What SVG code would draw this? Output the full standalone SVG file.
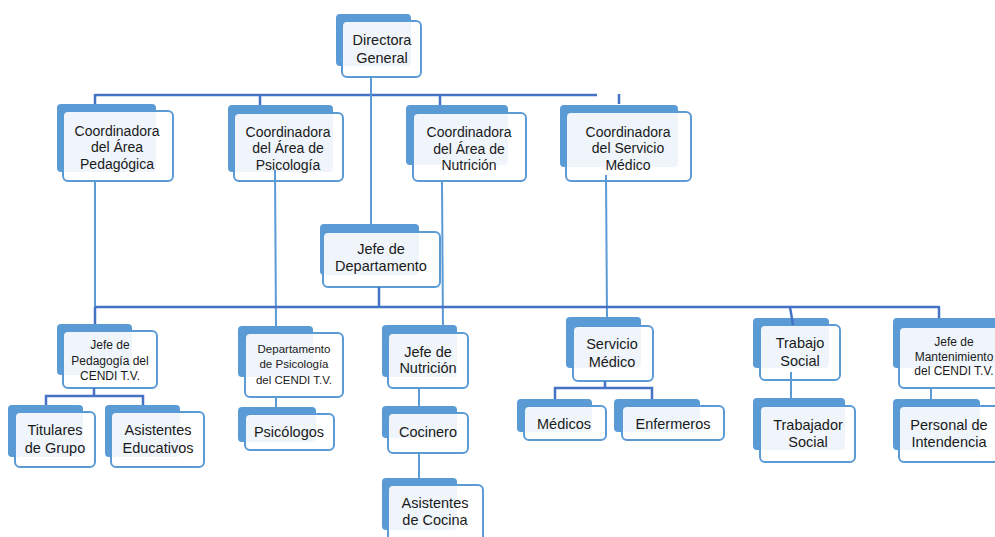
<svg xmlns="http://www.w3.org/2000/svg" width="995" height="537" viewBox="0 0 995 537">
<style>
.bk{fill:#5B9BD5}
.fr{fill:#ffffff;fill-opacity:0.9;stroke:#5B9BD5;stroke-width:2}
text{font-family:"Liberation Sans",Arial,sans-serif;fill:#1a1a1a;text-anchor:middle}
.t14{font-size:14.5px}
.t13{font-size:14px}
.t11{font-size:12px}
.t10{font-size:11.5px}
.h{stroke:#4472C4;stroke-width:2.5;fill:none}
.v{stroke:#5B9BD5;stroke-width:2;fill:none}
</style>
<rect width="995" height="537" fill="#ffffff"/>

<g id="n-directora">
<rect class="bk" x="336" y="14" width="75" height="52" rx="4"/>
<rect class="fr" x="342" y="21" width="79" height="56" rx="5"/>
<text class="t14" x="382" y="45">Directora</text>
<text class="t14" x="382" y="62.5">General</text>
</g>

<g id="n-coord-pedagogica">
<rect class="bk" x="57" y="104" width="99" height="68" rx="4"/>
<rect class="fr" x="63" y="111" width="110" height="70" rx="5"/>
<text class="t13" x="117" y="135.5">Coordinadora</text>
<text class="t13" x="117" y="152">del Área</text>
<text class="t13" x="117" y="168.5">Pedagógica</text>
</g>

<g id="n-coord-psicologia">
<rect class="bk" x="228" y="105" width="105" height="67" rx="4"/>
<rect class="fr" x="234" y="113" width="109" height="68" rx="5"/>
<text class="t13" x="288" y="136.5">Coordinadora</text>
<text class="t13" x="288" y="153">del Área de</text>
<text class="t13" x="288" y="170">Psicología</text>
</g>

<g id="n-coord-nutricion">
<rect class="bk" x="406" y="105" width="102" height="60" rx="4"/>
<rect class="fr" x="413" y="113" width="113" height="68" rx="5"/>
<text class="t13" x="469" y="136.5">Coordinadora</text>
<text class="t13" x="469" y="154">del Área de</text>
<text class="t13" x="469" y="170">Nutrición</text>
</g>

<g id="n-coord-servicio">
<rect class="bk" x="560" y="105" width="118" height="62" rx="4"/>
<rect class="fr" x="566" y="112" width="125" height="69" rx="5"/>
<text class="t13" x="628" y="136.5">Coordinadora</text>
<text class="t13" x="628" y="153">del Servicio</text>
<text class="t13" x="628" y="170">Médico</text>
</g>

<g id="n-jefe-depto">
<rect class="bk" x="320" y="224" width="99" height="51" rx="4"/>
<rect class="fr" x="323" y="232" width="117" height="55" rx="5"/>
<text class="t14" x="381" y="254">Jefe de</text>
<text class="t14" x="381" y="271">Departamento</text>
</g>

<g id="n-jefe-pedagogia">
<rect class="bk" x="57" y="324" width="75" height="51" rx="4"/>
<rect class="fr" x="63" y="331" width="94" height="57" rx="5"/>
<text class="t11" x="110" y="349">Jefe de</text>
<text class="t11" x="110" y="365">Pedagogía del</text>
<text class="t11" x="110" y="380">CENDI T.V.</text>
</g>

<g id="n-titulares">
<rect class="bk" x="8" y="405" width="75" height="52" rx="4"/>
<rect class="fr" x="15" y="412" width="80" height="55" rx="5"/>
<text class="t14" x="55" y="435">Titulares</text>
<text class="t14" x="55" y="453">de Grupo</text>
</g>

<g id="n-asistentes-educativos">
<rect class="bk" x="105" y="405" width="75" height="52" rx="4"/>
<rect class="fr" x="111" y="412" width="93" height="55" rx="5"/>
<text class="t14" x="158" y="435">Asistentes</text>
<text class="t14" x="158" y="453">Educativos</text>
</g>

<g id="n-depto-psicologia">
<rect class="bk" x="238" y="326" width="75" height="51" rx="4"/>
<rect class="fr" x="245" y="333" width="98" height="64" rx="5"/>
<text class="t10" x="294" y="352.5">Departamento</text>
<text class="t10" x="294" y="368">de Psicología</text>
<text class="t10" x="294" y="384">del CENDI T.V.</text>
</g>

<g id="n-psicologos">
<rect class="bk" x="238" y="407" width="78" height="35" rx="4"/>
<rect class="fr" x="245" y="414" width="89" height="36" rx="5"/>
<text class="t14" x="289" y="437">Psicólogos</text>
</g>

<g id="n-jefe-nutricion">
<rect class="bk" x="382" y="325" width="75" height="52" rx="4"/>
<rect class="fr" x="388" y="333" width="80" height="55" rx="5"/>
<text class="t14" x="428" y="356.5">Jefe de</text>
<text class="t14" x="428" y="373">Nutrición</text>
</g>

<g id="n-cocinero">
<rect class="bk" x="382" y="406" width="75" height="32" rx="4"/>
<rect class="fr" x="388" y="413" width="80" height="40" rx="5"/>
<text class="t14" x="428" y="437">Cocinero</text>
</g>

<g id="n-asistentes-cocina">
<rect class="bk" x="382" y="478" width="75" height="52" rx="4"/>
<rect class="fr" x="388" y="485" width="95" height="60" rx="5"/>
<text class="t14" x="435" y="508">Asistentes</text>
<text class="t14" x="435" y="525">de Cocina</text>
</g>

<g id="n-servicio-medico">
<rect class="bk" x="566" y="317" width="75" height="51" rx="4"/>
<rect class="fr" x="573" y="326" width="80" height="55" rx="5"/>
<text class="t14" x="612" y="348.5">Servicio</text>
<text class="t14" x="612" y="366.5">Médico</text>
</g>

<g id="n-medicos">
<rect class="bk" x="517" y="399" width="75" height="33" rx="4"/>
<rect class="fr" x="524" y="406" width="82" height="34" rx="5"/>
<text class="t14" x="564" y="429">Médicos</text>
</g>

<g id="n-enfermeros">
<rect class="bk" x="614" y="399" width="86" height="33" rx="4"/>
<rect class="fr" x="622" y="406" width="102" height="34" rx="5"/>
<text class="t14" x="673" y="429">Enfermeros</text>
</g>

<g id="n-trabajo-social">
<rect class="bk" x="753" y="318" width="76" height="50" rx="4"/>
<rect class="fr" x="760" y="325" width="80" height="55" rx="5"/>
<text class="t14" x="800" y="348">Trabajo</text>
<text class="t14" x="800" y="366">Social</text>
</g>

<g id="n-trabajador-social">
<rect class="bk" x="753" y="398" width="92" height="52" rx="4"/>
<rect class="fr" x="760" y="406" width="95" height="56" rx="5"/>
<text class="t14" x="808" y="430">Trabajador</text>
<text class="t14" x="808" y="447">Social</text>
</g>

<g id="n-jefe-mantenimiento">
<rect class="bk" x="893" y="318" width="110" height="50" rx="4"/>
<rect class="fr" x="899" y="327" width="110" height="61" rx="5"/>
<text class="t11" x="954" y="346">Jefe de</text>
<text class="t11" x="954" y="360.5">Mantenimiento</text>
<text class="t11" x="954" y="375">del CENDI T.V.</text>
</g>

<g id="n-personal-intendencia">
<rect class="bk" x="893" y="399" width="87" height="51" rx="4"/>
<rect class="fr" x="899" y="406" width="110" height="56" rx="5"/>
<text class="t14" x="949" y="430">Personal de</text>
<text class="t14" x="949" y="447">Intendencia</text>
</g>

<g id="connectors">
<line class="h" x1="95" y1="95" x2="597" y2="95"/>
<line class="h" x1="95" y1="94" x2="95" y2="104"/>
<line class="h" x1="260" y1="95" x2="260" y2="105"/>
<line class="h" x1="440" y1="95" x2="440" y2="105"/>
<line class="h" x1="619" y1="94" x2="619" y2="104"/>
<line class="v" x1="371" y1="77" x2="371" y2="224"/>
<line class="v" x1="95" y1="181" x2="95" y2="307"/>
<line class="v" x1="275" y1="170" x2="276" y2="326"/>
<line class="v" x1="442" y1="181" x2="443" y2="333"/>
<line class="v" x1="606" y1="175" x2="607" y2="317"/>
<line class="h" x1="379" y1="287" x2="379" y2="307"/>
<line class="h" x1="95" y1="307" x2="940" y2="307"/>
<line class="h" x1="95" y1="307" x2="95" y2="324"/>
<line class="h" x1="790" y1="307" x2="793" y2="325"/>
<line class="h" x1="939" y1="307" x2="939" y2="318"/>
<polyline class="h" points="46,405 46,396 143,396 143,405"/>
<line class="h" x1="94" y1="388" x2="94" y2="396"/>
<line class="v" x1="276" y1="397" x2="276" y2="407"/>
<line class="v" x1="419" y1="388" x2="419" y2="406"/>
<line class="v" x1="419" y1="453" x2="419" y2="478"/>
<line class="h" x1="605" y1="381" x2="605" y2="388"/>
<polyline class="h" points="555,399 555,388 652,388 652,399"/>
<line class="v" x1="791" y1="372" x2="791" y2="398"/>
<line class="v" x1="931" y1="388" x2="931" y2="399"/>
</g>
</svg>
